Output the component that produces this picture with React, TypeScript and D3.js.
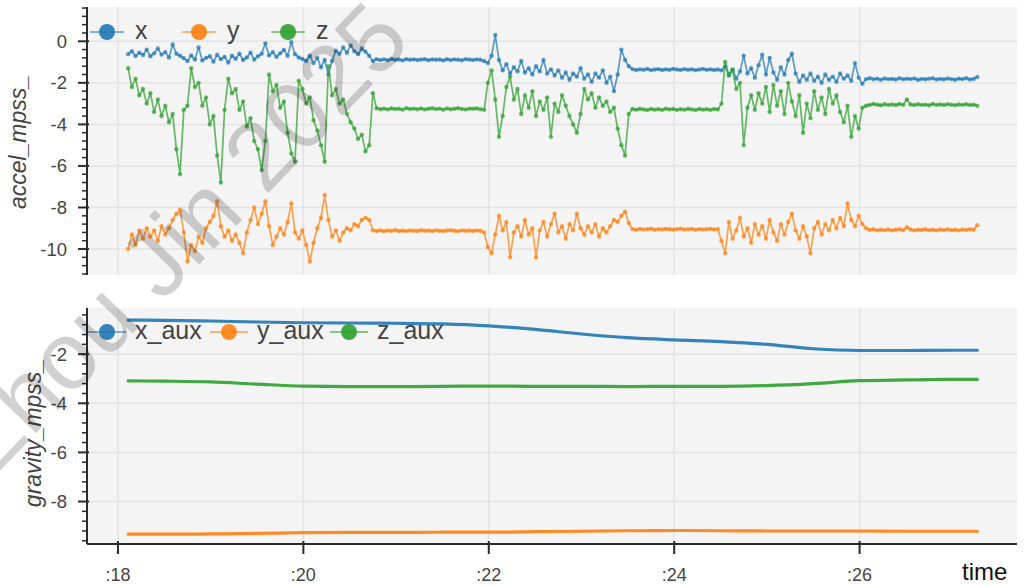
import React from "react";
import * as d3 from "d3";

// ---------- data ----------
const T_START = 18.11; // seconds of the minute for the first sample
const T_STEP = 0.04;   // sampling interval of the accel series

const accelX = [
  -0.62,-0.48,-0.71,-0.55,-0.66,-0.40,-0.72,-0.58,-0.35,-0.64,-0.52,-0.78,-0.15,-0.60,-0.70,
  -0.82,-0.95,-0.68,-0.88,-0.30,-0.92,
  -0.80,-0.72,-0.98,-0.65,-0.86,-0.75,-1.02,-0.70,-0.84,-0.60,-0.90,-0.78,-0.55,-0.88,-0.72,
  -0.60,-0.10,-0.68,-0.52,-0.75,-0.58,-0.42,-0.70,-0.05,-0.62,-0.78,
  -0.85,-0.95,-0.70,-1.05,-0.80,-1.25,-0.90,-1.60,
  -0.95,-0.45,-0.60,-0.30,-0.55,-0.20,-0.48,-0.62,-0.35,-0.50,-0.70,
  -0.95,-0.86,-0.90,-0.87,-0.91,-0.85,-0.89,-0.88,-0.92,-0.86,-0.89,-0.87,-0.90,-0.88,-0.86,
  -0.91,-0.87,-0.89,-0.88,-0.92,-0.86,-0.90,-0.87,-0.89,-0.91,-0.86,-0.88,-0.90,-0.87,-0.89,
  -0.95,-1.05,-0.70,0.30,-0.90,-1.40,-1.10,-1.55,-1.25,-1.45,-0.95,-1.50,-1.30,-1.60,-1.20,
  -1.45,-0.90,-1.55,-1.35,-1.65,-1.40,-1.75,-1.50,-1.85,-1.55,-1.70,-1.30,-1.80,-1.60,-1.95,
  -1.55,-1.75,-1.40,-2.00,-1.70,-2.40,-1.60,-0.40,-0.90,
  -1.20,-1.34,-1.38,-1.35,-1.37,-1.33,-1.39,-1.36,-1.34,-1.38,-1.35,-1.37,-1.33,-1.36,-1.38,
  -1.34,-1.37,-1.35,-1.39,-1.36,-1.33,-1.37,-1.35,-1.38,-1.36,
  -1.40,-1.20,-1.65,-1.35,-1.80,-1.45,-0.70,-1.55,-1.30,-1.75,-1.15,-0.65,-1.60,-0.80,-1.50,
  -1.85,-1.25,-1.60,-0.90,-0.60,-1.55,-1.95,-1.65,-1.85,-1.55,-1.90,-1.70,-2.00,-1.60,-1.85,
  -1.70,-1.95,-1.55,-1.80,-1.65,-1.90,-1.05,-1.75,-2.05,
  -1.82,-1.78,-1.83,-1.80,-1.85,-1.79,-1.82,-1.81,-1.84,-1.78,-1.83,-1.80,-1.82,-1.79,-1.85,
  -1.81,-1.83,-1.80,-1.78,-1.84,-1.81,-1.83,-1.79,-1.82,-1.85,-1.80,-1.82,-1.78,-1.84,-1.81,-1.72,
];

const accelY = [
  -10.0,-9.3,-9.8,-9.1,-9.5,-9.0,-9.4,-9.1,-9.6,-8.9,-9.3,-9.0,-8.6,-8.3,-8.1,
  -9.2,-10.6,-9.8,-10.1,-9.4,-9.7,-9.0,-8.7,-8.4,-7.7,-8.9,-9.4,-9.1,-9.6,-9.3,
  -9.7,-10.2,-9.2,-8.6,-8.0,-8.8,-8.3,-7.7,-8.9,-9.8,-9.4,-9.0,-9.3,-8.7,-7.8,
  -9.2,-9.5,-9.1,-9.8,-10.6,-9.7,-9.0,-8.5,-7.4,-8.6,-9.4,-9.1,-9.6,-9.2,-9.0,
  -9.1,-8.8,-8.9,-8.6,-8.5,-8.6,
  -9.10,-9.13,-9.10,-9.14,-9.11,-9.12,-9.09,-9.13,-9.11,-9.14,-9.10,-9.12,-9.13,-9.09,-9.12,
  -9.11,-9.14,-9.10,-9.12,-9.13,-9.11,-9.09,-9.12,-9.14,-9.10,-9.12,-9.11,-9.13,-9.10,-9.12,
  -9.2,-9.9,-10.2,-9.3,-8.4,-9.1,-8.7,-10.4,-9.2,-8.9,-9.4,-8.6,-9.3,-9.0,-10.4,
  -9.1,-8.7,-9.4,-8.8,-8.3,-9.2,-8.9,-9.5,-8.8,-9.1,-8.3,-9.0,-9.3,-8.9,-9.2,
  -8.8,-9.4,-9.0,-9.2,-8.9,-8.6,-8.7,-8.4,-8.2,
  -8.75,-9.04,-9.07,-9.03,-9.06,-9.05,-9.02,-9.07,-9.04,-9.06,-9.03,-9.05,-9.07,-9.04,-9.02,
  -9.06,-9.05,-9.03,-9.07,-9.04,-9.06,-9.05,-9.03,-9.06,-9.04,
  -9.6,-10.2,-8.7,-9.5,-9.1,-8.5,-9.4,-9.0,-9.7,-8.8,-9.3,-8.9,-9.5,-8.6,-9.2,
  -9.6,-8.8,-9.3,-8.7,-8.3,-9.1,-9.5,-8.9,-9.4,-10.2,-9.0,-8.7,-9.3,-8.8,-9.1,
  -8.6,-9.0,-8.5,-8.9,-7.8,-8.6,-8.9,-8.4,-8.8,
  -9.00,-9.08,-9.05,-9.10,-9.07,-9.09,-9.06,-9.10,-9.07,-9.05,-9.09,-8.95,-9.06,-9.10,-9.07,
  -9.08,-9.05,-9.09,-9.07,-9.10,-9.06,-9.08,-9.05,-9.09,-9.07,-9.10,-9.06,-9.08,-9.05,-9.07,-8.85,
];

const accelZ = [
  -1.3,-2.2,-1.8,-2.6,-2.3,-3.0,-2.5,-3.4,-2.8,-3.6,-3.1,-3.9,-3.5,-5.2,-6.4,
  -3.3,-3.1,-1.3,-2.2,-2.0,-3.1,-2.7,-4.0,-3.6,-5.5,-6.8,-3.3,-1.8,-2.5,-2.3,
  -3.3,-2.9,-4.1,-3.7,-4.8,-5.2,-6.2,-4.8,-1.6,-2.4,-2.1,-3.2,-2.9,-4.4,-5.4,
  -5.8,-1.9,-2.3,-3.0,-2.7,-3.8,-4.3,-5.0,-5.8,-1.2,-2.6,-2.3,-3.0,-2.8,-3.5,
  -3.9,-4.2,-4.7,-4.5,-5.3,-5.0,
  -2.50,-3.22,-3.27,-3.24,-3.28,-3.23,-3.26,-3.25,-3.29,-3.22,-3.26,-3.24,-3.27,-3.23,-3.28,
  -3.25,-3.22,-3.26,-3.24,-3.29,-3.23,-3.27,-3.25,-3.22,-3.26,-3.28,-3.24,-3.25,-3.23,-3.27,
  -3.3,-2.0,-1.4,-2.8,-4.6,-3.6,-2.2,-1.7,-2.8,-2.3,-3.5,-2.6,-3.2,-2.4,-3.6,
  -2.9,-3.3,-2.7,-4.6,-3.0,-3.4,-2.6,-3.1,-3.6,-4.0,-4.4,-3.5,-2.3,-2.8,-2.5,
  -3.2,-2.7,-3.1,-2.9,-3.4,-3.2,-4.2,-5.0,-5.5,
  -3.50,-3.26,-3.29,-3.25,-3.28,-3.31,-3.26,-3.29,-3.27,-3.30,-3.25,-3.28,-3.26,-3.30,-3.27,
  -3.29,-3.25,-3.28,-3.31,-3.26,-3.29,-3.27,-3.30,-3.26,-3.28,
  -3.0,-1.0,-1.6,-1.4,-2.3,-2.0,-5.0,-3.2,-2.6,-3.3,-2.5,-3.0,-2.2,-3.4,-2.1,
  -3.1,-2.4,-3.5,-2.0,-2.9,-3.6,-2.6,-4.4,-3.0,-3.7,-2.4,-3.3,-2.7,-3.5,-2.3,
  -3.0,-2.6,-3.4,-3.9,-3.1,-4.6,-3.6,-4.2,-3.2,
  -3.10,-3.06,-3.02,-3.05,-3.08,-3.03,-3.06,-3.04,-3.07,-3.02,-3.06,-2.80,-3.04,-3.07,-3.03,
  -3.06,-3.05,-3.08,-3.02,-3.06,-3.04,-3.07,-3.03,-3.05,-3.08,-3.04,-3.06,-3.03,-3.07,-3.05,-3.10,
];

const gravTime = [18.11,18.5,19.0,19.5,20.0,20.5,21.0,21.5,22.0,22.5,23.0,23.5,24.0,24.5,25.0,25.5,26.0,26.5,27.0,27.27];
const gravX = [-0.61,-0.62,-0.65,-0.69,-0.72,-0.73,-0.74,-0.77,-0.85,-0.99,-1.18,-1.33,-1.42,-1.49,-1.60,-1.78,-1.85,-1.85,-1.84,-1.84];
const gravY = [-9.33,-9.33,-9.32,-9.30,-9.27,-9.26,-9.26,-9.25,-9.25,-9.23,-9.21,-9.19,-9.18,-9.19,-9.20,-9.20,-9.20,-9.21,-9.21,-9.21];
const gravZ = [-3.09,-3.10,-3.13,-3.22,-3.30,-3.32,-3.32,-3.31,-3.30,-3.31,-3.31,-3.32,-3.31,-3.31,-3.28,-3.20,-3.08,-3.05,-3.03,-3.03];

const timeTicks = [18, 20, 22, 24, 26];
const accelTicks = [0, -2, -4, -6, -8, -10];
const gravTicks = [-2, -4, -6, -8];
const accelNames = ["x", "y", "z"];
const gravNames = ["x_aux", "y_aux", "z_aux"];
const COLORS = ["#1f77b4", "#ff7f0e", "#2ca02c"];

// ---------- layout ----------
const W = 1026, H = 586;
const L = 87, R = 1017;
const A_TOP = 7, A_BOT = 275;
const G_TOP = 308, G_BOT = 544;
const FONT = "'Liberation Sans', Arial, Helvetica, sans-serif";
const BG = "#f4f4f4";
const GRID = "#e3e3e3";
const AXIS = "#2b2b2b";
const TXT = "#444";

function minorTicks(dom: number[]) {
  const lo = Math.min(dom[0], dom[1]);
  const hi = Math.max(dom[0], dom[1]);
  const out: number[] = [];
  for (let k = Math.ceil(lo / 0.4 - 1e-9); k <= Math.floor(hi / 0.4 + 1e-9); k++) {
    if (k % 5 !== 0) out.push(k * 0.4);
  }
  return out;
}

function YAxis({ y, ticks, top, bot }: any) {
  const minors = minorTicks(y.domain());
  return (
    <g>
      <line x1={L} x2={L} y1={top} y2={bot} stroke={AXIS} strokeWidth={2} />
      {minors.map((v, i) => (
        <line key={"m" + i} x1={L - 5} x2={L} y1={y(v)} y2={y(v)} stroke={AXIS} strokeWidth={1.5} />
      ))}
      {ticks.map((v: number) => (
        <g key={v}>
          <line x1={L - 9} x2={L + 2} y1={y(v)} y2={y(v)} stroke={AXIS} strokeWidth={2} />
          <text x={67} y={y(v)} dy="0.35em" textAnchor="end" fontSize={18.5} fill={TXT} fontFamily={FONT}>
            {v}
          </text>
        </g>
      ))}
    </g>
  );
}

function Grid({ x, y, yt, top, bot }: any) {
  return (
    <g>
      <rect x={L} y={top} width={R - L} height={bot - top} fill={BG} />
      {yt.map((v: number) => (
        <line key={"h" + v} x1={L} x2={R} y1={y(v)} y2={y(v)} stroke={GRID} strokeWidth={1.5} />
      ))}
      {timeTicks.map((t) => (
        <line key={"v" + t} x1={x(t)} x2={x(t)} y1={top} y2={bot} stroke={GRID} strokeWidth={1.5} />
      ))}
    </g>
  );
}

function Legend({ names, starts, cy, glyphW, labelDx }: any) {
  return (
    <g>
      {names.map((n: string, i: number) => (
        <g key={n}>
          <line x1={starts[i]} x2={starts[i] + glyphW} y1={cy} y2={cy} stroke={COLORS[i]} strokeOpacity={0.55} strokeWidth={2} />
          <circle cx={starts[i] + glyphW / 2} cy={cy} r={8} fill={COLORS[i]} fillOpacity={0.9} />
          <text x={starts[i] + labelDx} y={cy + 6.8} fontSize={25} fill={TXT} fontFamily={FONT}>
            {n}
          </text>
        </g>
      ))}
    </g>
  );
}

export default function App() {
  const x = d3.scaleLinear().domain([17.666, 27.698]).range([L, R]);
  const yA = d3.scaleLinear().domain([-11.25, 1.65]).range([A_BOT, A_TOP]);
  const yG = d3.scaleLinear().domain([-9.73, -0.12]).range([G_BOT, G_TOP]);

  const times = accelX.map((_, i) => T_START + i * T_STEP);
  const accel = [accelX, accelY, accelZ];
  const grav = [gravX, gravY, gravZ];

  const lineA = d3
    .line<number>()
    .x((_, i) => x(times[i]))
    .y((d) => yA(d));
  const lineG = d3
    .line<number>()
    .x((_, i) => x(gravTime[i]))
    .y((d) => yG(d))
    .curve(d3.curveMonotoneX);

  return (
    <svg width={W} height={H} style={{ position: "absolute", left: 0, top: 0, background: "#fff" }}>
      <rect x={0} y={0} width={W} height={H} fill="#fff" />

      {/* top panel */}
      <Grid x={x} y={yA} yt={accelTicks} top={A_TOP} bot={A_BOT} />
      {accel.map((s, k) => (
        <g key={"a" + k}>
          <path d={lineA(s) || ""} fill="none" stroke={COLORS[k]} strokeWidth={1.7} strokeOpacity={0.72} strokeLinejoin="round" />
          {s.map((v, i) => (
            <circle key={i} cx={x(times[i])} cy={yA(v)} r={2.2} fill={COLORS[k]} fillOpacity={0.7} />
          ))}
        </g>
      ))}
      <YAxis y={yA} ticks={accelTicks} top={A_TOP} bot={A_BOT} />
      <Legend names={accelNames} starts={[90, 182, 271]} cy={32} glyphW={34} labelDx={45} />
      <text transform={`translate(26,142) rotate(-90)`} textAnchor="middle" fontSize={23} fontStyle="italic" fill={TXT} fontFamily={FONT}>
        accel_mpss_
      </text>

      {/* bottom panel */}
      <Grid x={x} y={yG} yt={gravTicks} top={G_TOP} bot={G_BOT} />
      {grav.map((s, k) => (
        <path key={"g" + k} d={lineG(s) || ""} fill="none" stroke={COLORS[k]} strokeWidth={3.2} strokeOpacity={0.9} strokeLinecap="round" />
      ))}
      <YAxis y={yG} ticks={gravTicks} top={G_TOP} bot={G_BOT} />
      <Legend names={gravNames} starts={[88, 210, 330]} cy={332} glyphW={38} labelDx={47} />
      <text transform={`translate(41,433) rotate(-90)`} textAnchor="middle" fontSize={23} fontStyle="italic" fill={TXT} fontFamily={FONT}>
        gravity_mpss_
      </text>

      {/* x axis */}
      <line x1={L} x2={R} y1={G_BOT} y2={G_BOT} stroke={AXIS} strokeWidth={2} />
      {timeTicks.map((t) => (
        <g key={"xt" + t}>
          <line x1={x(t)} x2={x(t)} y1={G_BOT - 3} y2={G_BOT + 10} stroke={AXIS} strokeWidth={2} />
          <text x={x(t)} y={581} textAnchor="middle" fontSize={18} fill={TXT} fontFamily={FONT}>
            {":" + t}
          </text>
        </g>
      ))}
      <text x={962} y={580} fontSize={24} fill="#111" fontFamily={FONT}>
        time
      </text>

      {/* watermark */}
      <text
        transform={`translate(178,238) rotate(-46)`}
        textAnchor="middle"
        dy="0.35em"
        fontSize={96}
        fill="#000"
        fillOpacity={0.18}
        fontFamily={FONT}
      >
        Zhou Jin 2025
      </text>
    </svg>
  );
}
